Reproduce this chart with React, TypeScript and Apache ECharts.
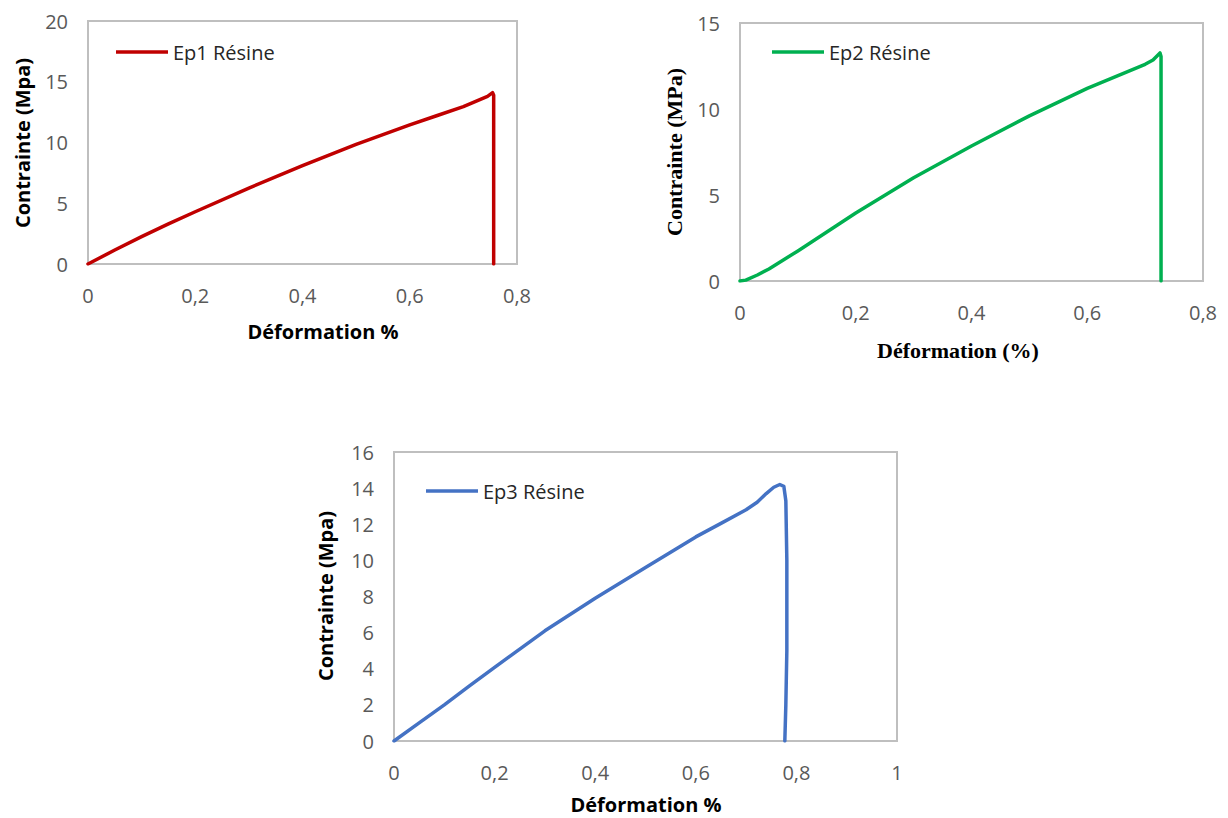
import React, { useEffect, useRef } from "react";
import * as echarts from "echarts";

// Ep1 Résine (red)
const ep1Strain = [0, 0.05, 0.1, 0.15, 0.2, 0.3, 0.4, 0.5, 0.6, 0.65, 0.7, 0.745, 0.7545, 0.7565, 0.7565];
const ep1Stress = [0, 1.15, 2.25, 3.3, 4.3, 6.25, 8.1, 9.85, 11.45, 12.2, 12.95, 13.8, 14.1, 13.9, 0];

// Ep2 Résine (green)
const ep2Strain = [0, 0.01, 0.03, 0.05, 0.1, 0.15, 0.2, 0.3, 0.4, 0.5, 0.6, 0.7, 0.7136, 0.7257, 0.7275, 0.7275];
const ep2Stress = [0, 0.05, 0.35, 0.7, 1.75, 2.85, 3.95, 6.0, 7.85, 9.6, 11.2, 12.6, 12.85, 13.26, 13.05, 0];

// Ep3 Résine (blue)
const ep3Strain = [0, 0.05, 0.1, 0.15, 0.2, 0.3, 0.4, 0.5, 0.6, 0.65, 0.7, 0.722, 0.74, 0.755, 0.767, 0.775, 0.779, 0.781, 0.781, 0.779, 0.777];
const ep3Stress = [0, 1.0, 2.0, 3.05, 4.08, 6.1, 7.9, 9.6, 11.3, 12.05, 12.8, 13.22, 13.7, 14.05, 14.2, 14.1, 13.3, 10, 5, 2, 0];

const seriesNames = ["Ep1 Résine", "Ep2 Résine", "Ep3 Résine"];
const seriesColors = ["#C00000", "#00B050", "#4472C4"];

const xMax = [0.8, 0.8, 1];
const yMax = [20, 15, 16];
const yInterval = [5, 5, 2];

const yTitles = ["Contrainte (Mpa)", "Contrainte (MPa)", "Contrainte (Mpa)"];
const xTitles = ["Déformation %", "Déformation (%)", "Déformation %"];

const pairs = (xs: number[], ys: number[]) => xs.map((x, i) => [x, ys[i]]);

export default function App() {
  const ref = useRef<HTMLDivElement>(null);
  useEffect(() => {
    if (!ref.current) return;
    const chart = echarts.init(ref.current, null, { renderer: "svg" });
    const grids = [
      { left: 88, top: 21, width: 429, height: 243 },
      { left: 740, top: 23, width: 463, height: 258 },
      { left: 394, top: 452, width: 503, height: 289 },
    ];
    const labelFont = "Open Sans";
    const data = [pairs(ep1Strain, ep1Stress), pairs(ep2Strain, ep2Stress), pairs(ep3Strain, ep3Stress)];
    const sansTitle = 'bold 20px "Open Sans"';
    const serifTitle = 'bold 22px "Liberation Serif"';
    const titleFonts = [sansTitle, serifTitle, sansTitle];
    const yTitlePos = [[22, 143], [674, 152], [325, 596]];
    const xTitlePos = [[323, 331], [958, 350], [646, 804]];
    const legendPos = [[111, 37], [767, 37], [421, 476]];

    const option: any = {
      animation: false,
      grid: grids.map((g) => ({
        ...g,
        show: true,
        borderColor: "#BFBFBF",
        borderWidth: 2,
        backgroundColor: "transparent",
      })),
      xAxis: grids.map((_, i) => ({
        type: "value",
        gridIndex: i,
        min: 0,
        max: xMax[i],
        interval: 0.2,
        axisLine: { show: false },
        axisTick: { show: false },
        splitLine: { show: false },
        axisLabel: {
          color: "#595959",
          fontSize: 20,
          fontFamily: labelFont,
          margin: 21,
          formatter: (v: number) => String(Math.round(v * 10) / 10).replace(".", ","),
        },
      })),
      yAxis: grids.map((_, i) => ({
        type: "value",
        gridIndex: i,
        min: 0,
        max: yMax[i],
        interval: yInterval[i],
        axisLine: { show: false },
        axisTick: { show: false },
        splitLine: { show: false },
        axisLabel: {
          color: "#595959",
          fontSize: 20,
          fontFamily: labelFont,
          margin: 20,
        },
      })),
      legend: seriesNames.map((n, i) => ({
        data: [n],
        left: legendPos[i][0],
        top: legendPos[i][1],
        icon: "rect",
        itemWidth: 52,
        itemHeight: 3.5,
        itemGap: 6,
        textStyle: { color: "#262626", fontSize: 20, fontFamily: labelFont },
      })),
      series: seriesNames.map((n, i) => ({
        name: n,
        type: "line",
        xAxisIndex: i,
        yAxisIndex: i,
        data: data[i],
        showSymbol: false,
        symbol: "none",
        color: seriesColors[i],
        lineStyle: { color: seriesColors[i], width: 3.5, join: "round", cap: "round" },
      })),
      graphic: [
        ...yTitles.map((t, i) => ({
          type: "text",
          x: yTitlePos[i][0],
          y: yTitlePos[i][1],
          rotation: Math.PI / 2,
          style: {
            text: t,
            font: titleFonts[i],
            fill: "#000000",
            textAlign: "center",
            textVerticalAlign: "middle",
          },
        })),
        ...xTitles.map((t, i) => ({
          type: "text",
          x: xTitlePos[i][0],
          y: xTitlePos[i][1],
          style: {
            text: t,
            font: titleFonts[i],
            fill: "#000000",
            textAlign: "center",
            textVerticalAlign: "middle",
          },
        })),
      ],
    };
    chart.setOption(option);
    return () => chart.dispose();
  }, []);
  return (
    <div
      ref={ref}
      style={{ position: "absolute", left: 0, top: 0, width: 1228, height: 818, background: "#ffffff" }}
    />
  );
}
